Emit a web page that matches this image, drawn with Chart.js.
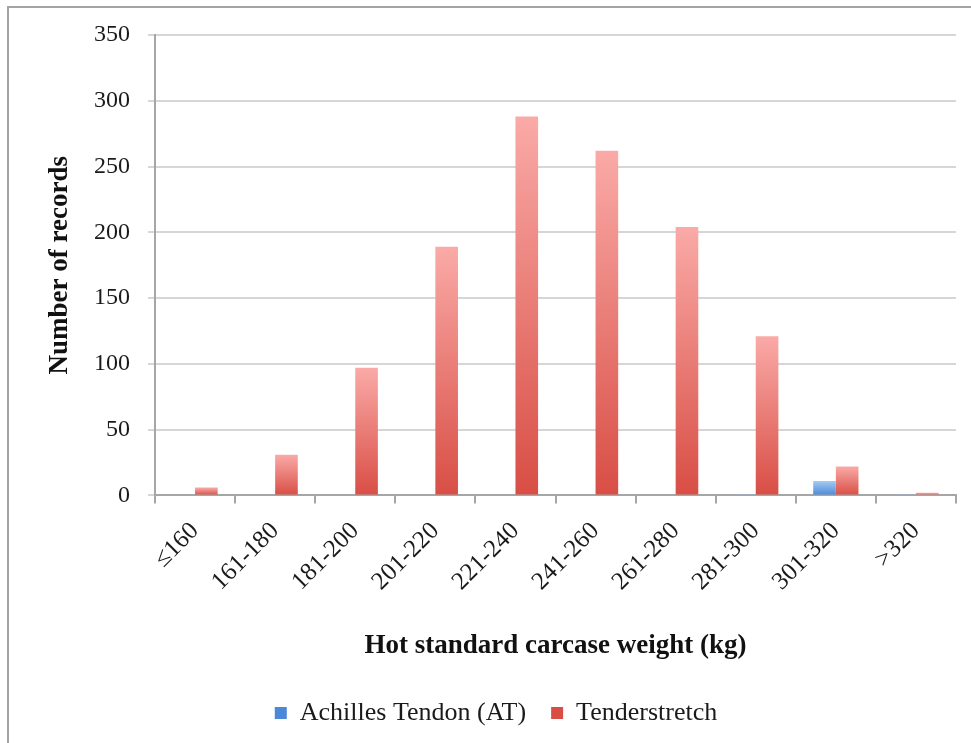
<!DOCTYPE html>
<html>
<head>
<meta charset="utf-8">
<script src="https://cdn.jsdelivr.net/npm/chart.js@4.4.1/dist/chart.umd.min.js"></script>
<style>
  html, body { margin: 0; padding: 0; background: #ffffff; }
  #wrap { position: relative; width: 971px; height: 743px; overflow: hidden; }
  #frame { position: absolute; left: 7px; top: 6px; width: 1000px; height: 800px;
           border-left: 2px solid #a4a4a4; border-top: 2px solid #a4a4a4; pointer-events: none; }
  canvas { display: block; }
</style>
</head>
<body>
<div id="wrap">
  <canvas id="chart" width="971" height="743"></canvas>
  <div id="frame"></div>
</div>
<script>
// Weight classes (kg)
const categories = ['≤160', '161-180', '181-200', '201-220', '221-240', '241-260', '261-280', '281-300', '301-320', '>320'];
// Records per weight class
const achillesTendon = [0, 0, 0, 0, 0, 0, 0, 1, 11, 1];
const tenderstretch = [6, 31, 97, 189, 288, 262, 204, 121, 22, 2];
// Y axis tick values
const yTicks = [0, 50, 100, 150, 200, 250, 300, 350];

const FONT = '"Liberation Serif", "Times New Roman", serif';

// Vertical gradient per bar: light at the top, darker at the base
function barFill(light, dark, mid) {
  return (ctx) => {
    const chart = ctx.chart;
    if (ctx.type !== 'data' || !chart.chartArea) return mid;
    const y = chart.scales.y;
    const top = y.getPixelForValue(ctx.raw);
    const base = y.getPixelForValue(0);
    if (!(base - top > 0.5)) return dark;
    const g = chart.ctx.createLinearGradient(0, top, 0, base);
    g.addColorStop(0, light);
    g.addColorStop(1, dark);
    return g;
  };
}

new Chart(document.getElementById('chart'), {
  type: 'bar',
  data: {
    labels: categories,
    datasets: [
      {
        label: 'Achilles Tendon (AT)',
        data: achillesTendon,
        backgroundColor: barFill('#a6caf3', '#4a88d8', '#6fa4e6'),
        borderWidth: 0
      },
      {
        label: 'Tenderstretch',
        data: tenderstretch,
        backgroundColor: barFill('#faaaa7', '#d84e45', '#e8665f'),
        borderWidth: 0
      }
    ]
  },
  options: {
    responsive: false,
    animation: false,
    events: [],
    datasets: { bar: { categoryPercentage: 0.565, barPercentage: 1.0 } },
    layout: { padding: { left: 36, right: 15, top: 35, bottom: 7 } },
    plugins: {
      tooltip: { enabled: false },
      legend: {
        position: 'bottom',
        labels: {
          font: { family: FONT, size: 26 },
          color: '#1a1a1a',
          boxWidth: 12,
          boxHeight: 12,
          padding: 25
        }
      }
    },
    scales: {
      x: {
        grid: { drawOnChartArea: false, drawTicks: true, tickLength: 8, color: '#a6a6a6', lineWidth: 2, offset: true },
        border: { display: true, color: '#a6a6a6', width: 2 },
        ticks: {
          font: { family: FONT, size: 25 },
          color: '#1a1a1a',
          maxRotation: 45,
          minRotation: 45,
          autoSkip: false,
          padding: 13
        },
        title: {
          display: true,
          text: 'Hot standard carcase weight (kg)',
          font: { family: FONT, size: 27, weight: 'bold' },
          color: '#111111',
          padding: { top: 20, bottom: 13 }
        }
      },
      y: {
        min: 0,
        max: 350,
        afterBuildTicks: (scale) => { scale.ticks = yTicks.map(v => ({ value: v })); },
        afterFit: (scale) => { scale.width = 119; },
        grid: { color: '#d6d6d6', lineWidth: 2, tickLength: 7, drawTicks: true },
        border: { display: true, color: '#a6a6a6', width: 2 },
        ticks: {
          font: { family: FONT, size: 24 },
          color: '#1a1a1a',
          padding: 18
        },
        title: {
          display: true,
          text: 'Number of records',
          font: { family: FONT, size: 27, weight: 'bold' },
          color: '#111111',
          padding: { top: 8, bottom: 0 }
        }
      }
    }
  }
});
</script>
</body>
</html>
